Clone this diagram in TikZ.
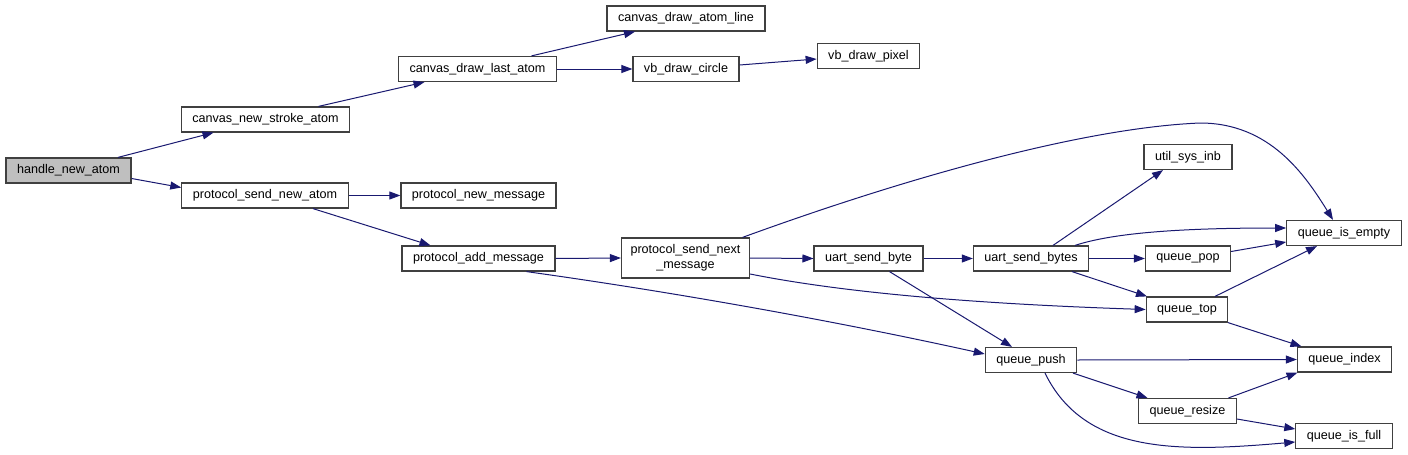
\documentclass[tikz,border=0pt]{standalone}
\usepackage{fontspec}
\setmainfont{Liberation Sans}
\usepackage{tikz}
\usetikzlibrary{arrows.meta}
\definecolor{cEdge}{HTML}{191970}
\definecolor{cFrame}{HTML}{404040}
\definecolor{cRoot}{HTML}{BFBFBF}
\tikzset{
  fn/.style={draw=cFrame, line width=1.2pt, fill=white, align=center,
             inner xsep=11pt, inner ysep=2pt, minimum height=25pt,
             font=\fontsize{12.6}{15}\selectfont},
  fnRoot/.style={fn, fill=cRoot},
  call/.style={-{Triangle[length=11pt,width=8pt]}, cEdge, line width=1pt}
}

\begin{document}
\begin{tikzpicture}[x=1pt, y=-1pt]
\useasboundingbox (0,0) rectangle (1408,455);
% functions
\node[fnRoot] (hna) at (68.5,170.5) {handle\_new\_atom};
\node[fn] (cnsa) at (265.5,119.5) {canvas\_new\_stroke\_atom};
\node[fn] (psna) at (265,195.5) {protocol\_send\_new\_atom};
\node[fn] (cdla) at (477.5,69) {canvas\_draw\_last\_atom};
\node[fn] (pnm) at (478.5,195.5) {protocol\_new\_message};
\node[fn] (pam) at (478.5,258.5) {protocol\_add\_message};
\node[fn] (cdal) at (686,18.5) {canvas\_draw\_atom\_line};
\node[fn] (vbc) at (686,69) {vb\_draw\_circle};
\node[fn] (vbp) at (868.5,56) {vb\_draw\_pixel};
\node[fn, minimum height=40pt, inner xsep=9pt] (psnm) at (685.5,258) {protocol\_send\_next\\\_message};
\node[fn] (usb) at (868.5,258.5) {uart\_send\_byte};
\node[fn] (usbs) at (1031,258.5) {uart\_send\_bytes};
\node[fn] (usi) at (1188,157) {util\_sys\_inb};
\node[fn] (qie) at (1344,233) {queue\_is\_empty};
\node[fn] (qpop) at (1188,258.5) {queue\_pop};
\node[fn] (qtop) at (1187,309.5) {queue\_top};
\node[fn] (qidx) at (1344.5,359.5) {queue\_index};
\node[fn] (qpush) at (1031,360) {queue\_push};
\node[fn] (qres) at (1187.5,411) {queue\_resize};
\node[fn] (qfull) at (1344,436) {queue\_is\_full};
% calls
\draw[call] ([xshift=49.5pt]hna.north) -- ([xshift=-52pt]cnsa.south);
\draw[call] ([yshift=-8pt]hna.east) -- ([yshift=8pt]psna.west);
\draw[call] ([xshift=53pt]cnsa.north) -- ([xshift=-53pt]cdla.south);
\draw[call] ([xshift=54pt]cdla.north) -- ([xshift=-51pt]cdal.south);
\draw[call] (cdla.east) -- (vbc.west);
\draw[call] ([yshift=4pt]vbc.east) -- ([yshift=-3pt]vbp.west);
\draw[call] (psna.east) -- (pnm.west);
\draw[call] ([xshift=48pt]psna.south) -- ([xshift=-48pt]pam.north);
\draw[call] (pam.east) -- (psnm.west);
\draw[call] ([xshift=48pt]pam.south) .. controls (680,293) and (840,322) .. ([yshift=6pt]qpush.west);
\draw[call] ([xshift=57pt]psnm.north) .. controls (900,180) and (1080,128) .. (1200,123)
  .. controls (1270,123) and (1305,175) .. ([xshift=-11pt]qie.north);
\draw[call] (psnm.east) -- (usb.west);
\draw[call] ([yshift=-16pt]psnm.east) .. controls (830,290) and (950,303) .. (qtop.west);
\draw[call] (usb.east) -- (usbs.west);
\draw[call] ([xshift=21pt]usb.south) -- ([xshift=-19pt]qpush.north);
\draw[call] ([xshift=22pt]usbs.north) -- ([xshift=-25pt]usi.south);
\draw[call] ([xshift=44pt]usbs.north) .. controls (1110,234) and (1170,228) .. ([yshift=5pt]qie.west);
\draw[call] (usbs.east) -- (qpop.west);
\draw[call] ([xshift=41pt]usbs.south) -- ([xshift=-40pt]qtop.north);
\draw[call] ([yshift=7pt]qpop.east) -- ([yshift=-9pt]qie.west);
\draw[call] ([xshift=28pt]qtop.north) -- ([xshift=-27pt]qie.south);
\draw[call] ([xshift=41pt]qtop.south) -- ([xshift=-43pt]qidx.north);
\draw[call] (qpush.east) -- (qidx.west);
\draw[call] ([xshift=42pt]qpush.south) -- ([xshift=-40pt]qres.north);
\draw[call] ([xshift=14pt]qpush.south) .. controls (1085,455) and (1180,452) .. ([yshift=-6pt]qfull.west);
\draw[call] ([xshift=41pt]qres.north) -- ([xshift=-47pt]qidx.south);
\draw[call] ([yshift=-8pt]qres.east) -- ([yshift=7pt]qfull.west);
\end{tikzpicture}
\end{document}
